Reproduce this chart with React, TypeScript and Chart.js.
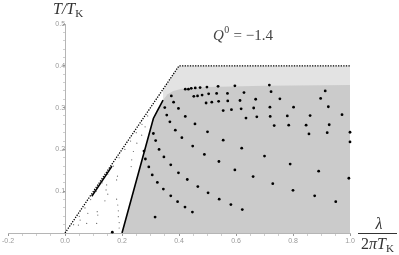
import React, { useEffect, useRef } from 'react';
import { Chart, registerables } from 'chart.js';

Chart.register(...registerables);

// Axis ranges / ticks
const xRange = [-0.2, 1.0];
const yRange = [0, 0.5];
const xMajorStep = 0.2;
const yMajorStep = 0.1;

// Shaded regions (boundaries)
const lightRegionX = [0.344, 0.4, 1.0];
const lightRegionY = [0.344, 0.4, 0.4];
const darkRegionX = [0.2, 0.31, 0.322, 0.344, 0.36, 0.38, 0.41, 0.5, 0.7, 1.0];
const darkRegionY = [0, 0.274, 0.29, 0.318, 0.332, 0.34, 0.345, 0.349, 0.352, 0.354];

// Boundary lines
const dottedBoundaryX = [0, 0.4, 1.0];
const dottedBoundaryY = [0, 0.4, 0.4];
const solidBoundaryX = [0.2, 0.31, 0.322, 0.344];
const solidBoundaryY = [0, 0.274, 0.29, 0.318];
const thickSegX = [0.094, 0.165];
const thickSegY = [0.088, 0.16];

// Large black points
const stateX = [
  0.422, 0.433, 0.443, 0.457, 0.474, 0.498, 0.537, 0.596, 0.717,
  0.373, 0.452, 0.465, 0.481, 0.504, 0.532, 0.57, 0.628, 0.723, 0.913,
  0.381, 0.495, 0.515, 0.539, 0.571, 0.614, 0.669, 0.754, 0.897,
  0.35, 0.398, 0.555, 0.584, 0.618, 0.662, 0.719, 0.802, 0.924,
  0.357, 0.422, 0.635, 0.673, 0.72, 0.78, 0.86, 0.972,
  0.368, 0.456, 0.734, 0.785, 0.846, 0.927,
  0.387, 0.5, 0.31, 0.856, 0.92, 1.0, 0.41, 0.318, 0.555, 1.0,
  0.448, 0.33, 0.62, 0.277, 0.489, 0.7, 0.347, 0.282, 0.54, 0.79,
  0.371, 0.294, 0.596, 0.89, 0.398, 0.306, 0.66, 0.996, 0.429, 0.324,
  0.729, 0.466, 0.345, 0.8, 0.502, 0.371, 0.876, 0.541, 0.395, 0.95,
  0.582, 0.421, 0.622, 0.447, 0.316, 0.166,
];
const stateY = [
  0.344, 0.344, 0.346, 0.347, 0.348, 0.349, 0.351, 0.352, 0.354,
  0.328, 0.327, 0.328, 0.33, 0.333, 0.334, 0.334, 0.336, 0.338, 0.34,
  0.313, 0.311, 0.313, 0.315, 0.316, 0.317, 0.32, 0.321, 0.322,
  0.3, 0.298, 0.293, 0.295, 0.297, 0.299, 0.301, 0.301, 0.302,
  0.282, 0.279, 0.275, 0.278, 0.279, 0.28, 0.281, 0.283,
  0.266, 0.261, 0.257, 0.258, 0.258, 0.259,
  0.246, 0.242, 0.238, 0.237, 0.24, 0.241, 0.228, 0.221, 0.222, 0.218,
  0.208, 0.2, 0.203, 0.196, 0.188, 0.184, 0.182, 0.177, 0.171, 0.165,
  0.163, 0.158, 0.151, 0.148, 0.144, 0.139, 0.135, 0.131, 0.128, 0.121,
  0.118, 0.111, 0.105, 0.102, 0.096, 0.089, 0.089, 0.081, 0.075, 0.075,
  0.068, 0.062, 0.056, 0.05, 0.038, 0.002,
];

// Tiny grey points in the white region
const tinyX = [
  0.29, 0.27, 0.25, 0.23, 0.21, 0.19, 0.17, 0.15, 0.13, 0.11, 0.09, 0.07, 0.05, 0.03,
  0.281, 0.269, 0.252, 0.24, 0.234, 0.232, 0.184, 0.181,
  0.181, 0.185, 0.187, 0.187, 0.19, 0.19,
  0.146, 0.144, 0.15, 0.14,
  0.113, 0.115, 0.111, 0.08, 0.076, 0.053, 0.047,
];
const tinyY = [
  0.28, 0.26, 0.24, 0.22, 0.2, 0.18, 0.16, 0.14, 0.12, 0.1, 0.08, 0.06, 0.04, 0.02,
  0.254, 0.234, 0.215, 0.195, 0.175, 0.159, 0.136, 0.127,
  0.081, 0.067, 0.053, 0.039, 0.025, 0.012,
  0.115, 0.103, 0.093, 0.077,
  0.051, 0.043, 0.023, 0.047, 0.023, 0.031, 0.019,
];

const pts = (xs: number[], ys: number[]) => xs.map((x, i) => ({ x, y: ys[i] }));
const isMultiple = (v: number, step: number) => Math.abs(v / step - Math.round(v / step)) < 1e-6;

const SERIF = '"Liberation Serif", "DejaVu Serif", serif';

const textPlugin = {
  id: 'textLabels',
  afterDraw(chart: any) {
    const ctx = chart.ctx as CanvasRenderingContext2D;
    ctx.save();
    ctx.fillStyle = '#333';
    ctx.textAlign = 'left';
    ctx.textBaseline = 'alphabetic';
    // y-axis title T/T_K
    ctx.font = `italic 16px ${SERIF}`;
    ctx.fillText('T/T', 53, 14);
    let w = ctx.measureText('T/T').width;
    ctx.font = `11px ${SERIF}`;
    ctx.fillText('K', 53 + w, 17);

    // Title Q^0 = -1.4
    ctx.fillStyle = '#444';
    ctx.font = `italic 15px ${SERIF}`;
    ctx.fillText('Q', 213, 40);
    let x = 213 + ctx.measureText('Q').width;
    ctx.font = `10px ${SERIF}`;
    ctx.fillText('0', x + 0.5, 33);
    x += ctx.measureText('0').width + 1;
    ctx.font = `15px ${SERIF}`;
    ctx.fillText(' = \u22121.4', x, 40);

    // x-axis title lambda / (2 pi T_K)
    ctx.fillStyle = '#333';
    ctx.font = `italic 16px ${SERIF}`;
    ctx.textAlign = 'center';
    ctx.fillText('\u03bb', 379, 229);
    ctx.strokeStyle = '#333';
    ctx.lineWidth = 1;
    ctx.beginPath();
    ctx.moveTo(358, 233.5);
    ctx.lineTo(397, 233.5);
    ctx.stroke();
    ctx.textAlign = 'left';
    let dx = 361;
    ctx.font = `16px ${SERIF}`;
    ctx.fillText('2', dx, 249);
    dx += ctx.measureText('2').width;
    ctx.font = `italic 16px ${SERIF}`;
    ctx.fillText('\u03c0T', dx, 249);
    dx += ctx.measureText('\u03c0T').width;
    ctx.font = `11px ${SERIF}`;
    ctx.fillText('K', dx, 252);
    ctx.restore();
  },
};

export default function App() {
  const canvasRef = useRef<HTMLCanvasElement | null>(null);

  useEffect(() => {
    const canvas = canvasRef.current;
    if (!canvas) return;
    const chart = new Chart(canvas, {
      type: 'line',
      data: {
        datasets: [
          {
            data: pts(lightRegionX, lightRegionY),
            showLine: true,
            fill: 'origin',
            backgroundColor: '#e3e3e3',
            borderWidth: 0,
            pointRadius: 0,
            order: 10,
          },
          {
            data: pts(darkRegionX, darkRegionY),
            showLine: true,
            fill: 'origin',
            backgroundColor: '#cbcbcb',
            borderWidth: 0,
            pointRadius: 0,
            order: 9,
          },
          {
            data: pts(dottedBoundaryX, dottedBoundaryY),
            showLine: true,
            fill: false,
            borderColor: '#000',
            borderWidth: 1.3,
            borderDash: [1.3, 1.3],
            pointRadius: 0,
            order: 5,
          },
          {
            data: pts(solidBoundaryX, solidBoundaryY),
            showLine: true,
            fill: false,
            borderColor: '#000',
            borderWidth: 1.6,
            pointRadius: 0,
            order: 4,
          },
          {
            data: pts(thickSegX, thickSegY),
            showLine: true,
            fill: false,
            borderColor: '#000',
            borderWidth: 1.5,
            pointRadius: 0,
            order: 4,
          },
          {
            data: pts(tinyX, tinyY),
            showLine: false,
            fill: false,
            pointRadius: 0.6,
            pointBorderWidth: 0,
            pointBackgroundColor: '#666',
            order: 2,
          },
          {
            data: pts(stateX, stateY),
            showLine: false,
            fill: false,
            pointRadius: 1.4,
            pointBorderWidth: 0,
            pointBackgroundColor: '#000',
            clip: false,
            order: 1,
          },
        ],
      },
      options: {
        animation: false,
        responsive: false,
        maintainAspectRatio: false,
        events: [],
        layout: { padding: { left: 8, right: 49, top: 24, bottom: 22 } },
        plugins: { legend: { display: false }, tooltip: { enabled: false }, title: { display: false } },
        scales: {
          x: {
            type: 'linear',
            min: xRange[0],
            max: xRange[1],
            position: { y: 0 },
            afterFit: (s: any) => { s.height = 0; },
            border: { color: '#b5b5b5', width: 1 },
            grid: {
              drawOnChartArea: false,
              tickLength: 2,
              color: (c: any) => (c.tick && isMultiple(c.tick.value, xMajorStep) ? '#999' : '#cfcfcf'),
            },
            ticks: {
              stepSize: 0.05,
              autoSkip: false,
              maxRotation: 0,
              padding: 2,
              color: '#999',
              font: { size: 7, family: '"Liberation Sans", Arial, sans-serif' },
              callback: (v: any) => {
                const n = Number(v);
                if (!isMultiple(n, xMajorStep)) return '';
                return Math.abs(n) < 1e-9 ? '0.0' : n.toFixed(1);
              },
            },
          },
          y: {
            type: 'linear',
            min: yRange[0],
            max: yRange[1],
            position: { x: 0 },
            afterFit: (s: any) => { s.width = 0; },
            border: { color: '#b5b5b5', width: 1 },
            grid: {
              drawOnChartArea: false,
              tickLength: 2,
              color: (c: any) => (c.tick && isMultiple(c.tick.value, yMajorStep) ? '#999' : '#cfcfcf'),
            },
            ticks: {
              stepSize: 0.02,
              autoSkip: false,
              padding: 2,
              color: '#999',
              font: { size: 7, family: '"Liberation Sans", Arial, sans-serif' },
              callback: (v: any) => {
                const n = Number(v);
                if (n < 1e-9 || !isMultiple(n, yMajorStep)) return '';
                return n.toFixed(1);
              },
            },
          },
        },
      } as any,
      plugins: [textPlugin],
    });
    return () => chart.destroy();
  }, []);

  return (
    <div style={{ position: 'fixed', left: 0, top: 0, width: 399, height: 255, background: '#fff' }}>
      <canvas ref={canvasRef} width={399} height={255} style={{ width: 399, height: 255, display: 'block' }} />
    </div>
  );
}
